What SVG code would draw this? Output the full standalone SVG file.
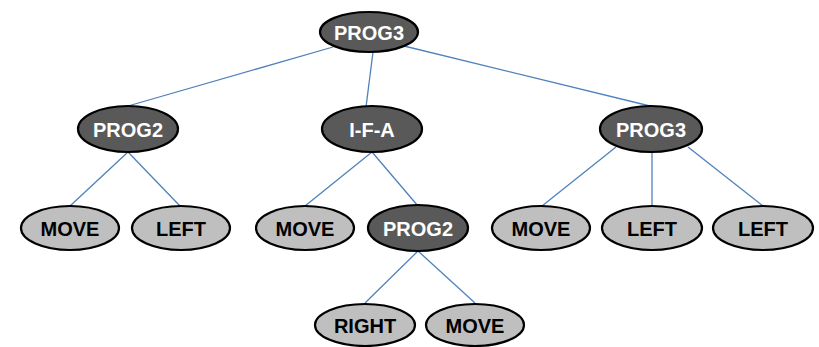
<svg xmlns="http://www.w3.org/2000/svg" width="819" height="347" viewBox="0 0 819 347">
<style>
.dark ellipse{fill:#595959;stroke:#000;stroke-width:2.2}
.light ellipse{fill:#bfbfbf;stroke:#000;stroke-width:2.2}
text{font-family:"Liberation Sans",Arial,sans-serif;font-weight:bold;font-size:20px;text-anchor:middle}
.dark text{fill:#fff}
.light text{fill:#000}
#edges line{stroke:#4f81bd;stroke-width:1.3}
</style>
<rect width="819" height="347" fill="#fff"/>
<g id="edges">
<line x1="333" y1="47" x2="128" y2="106"/>
<line x1="373" y1="52" x2="366" y2="107"/>
<line x1="404" y1="46" x2="650" y2="106"/>
<line x1="128" y1="152" x2="70" y2="206"/>
<line x1="128" y1="152" x2="180" y2="206"/>
<line x1="372" y1="152" x2="305" y2="206"/>
<line x1="372" y1="152" x2="418" y2="206"/>
<line x1="418" y1="251" x2="365" y2="303"/>
<line x1="418" y1="251" x2="475" y2="303"/>
<line x1="616" y1="147" x2="542" y2="206"/>
<line x1="652" y1="152" x2="652" y2="206"/>
<line x1="688" y1="147" x2="763" y2="206"/>
</g>
<g id="n_root" class="dark"><ellipse cx="369" cy="32" rx="49" ry="20"/><text x="369" y="39.5">PROG3</text></g>
<g id="n_prog2a" class="dark"><ellipse cx="128" cy="129" rx="50" ry="23"/><text x="128" y="136.5">PROG2</text></g>
<g id="n_ifa" class="dark"><ellipse cx="372" cy="129" rx="50" ry="23"/><text x="372" y="136.5">I-F-A</text></g>
<g id="n_prog3b" class="dark"><ellipse cx="651" cy="129" rx="51" ry="23"/><text x="651" y="136.5">PROG3</text></g>
<g id="n_move1" class="light"><ellipse cx="70" cy="228" rx="49" ry="22"/><text x="70" y="235.5">MOVE</text></g>
<g id="n_left1" class="light"><ellipse cx="181" cy="228" rx="49" ry="22"/><text x="181" y="235.5">LEFT</text></g>
<g id="n_move2" class="light"><ellipse cx="305" cy="228" rx="49" ry="22"/><text x="305" y="235.5">MOVE</text></g>
<g id="n_prog2b" class="dark"><ellipse cx="418" cy="228" rx="50" ry="23"/><text x="418" y="235.5">PROG2</text></g>
<g id="n_move3" class="light"><ellipse cx="541" cy="228" rx="49" ry="22"/><text x="541" y="235.5">MOVE</text></g>
<g id="n_left2" class="light"><ellipse cx="652" cy="228" rx="50" ry="22"/><text x="652" y="235.5">LEFT</text></g>
<g id="n_left3" class="light"><ellipse cx="763" cy="228" rx="50" ry="22"/><text x="763" y="235.5">LEFT</text></g>
<g id="n_right" class="light"><ellipse cx="365" cy="325" rx="50" ry="21"/><text x="365" y="332.5">RIGHT</text></g>
<g id="n_move4" class="light"><ellipse cx="475" cy="325" rx="49" ry="21"/><text x="475" y="332.5">MOVE</text></g>
</svg>
